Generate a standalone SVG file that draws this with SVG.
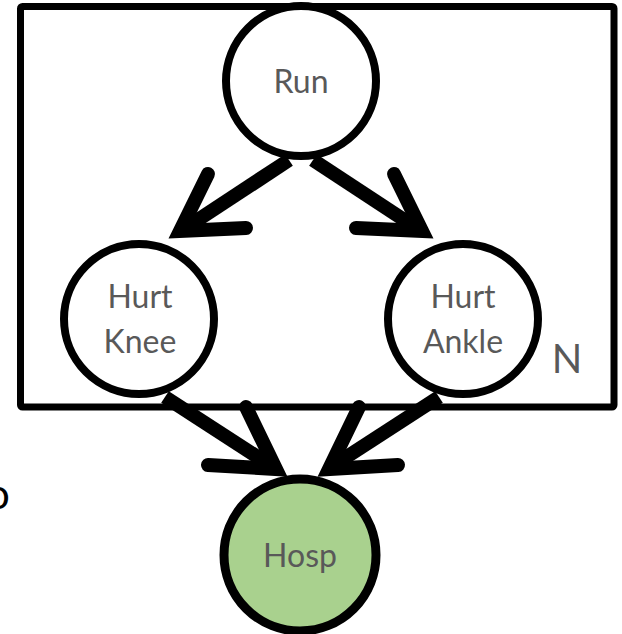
<svg xmlns="http://www.w3.org/2000/svg" width="622" height="634" viewBox="0 0 622 634">
  <style>
    .plate { fill: none; stroke: #000; stroke-width: 7; stroke-linejoin: round; }
    .node circle { fill: #fff; stroke: #000; stroke-width: 8; }
    #hosp circle { fill: #A9D18E; stroke-width: 9; }
    .label { font-family: Lato, "Open Sans", sans-serif; font-size: 32px; fill: #595959; text-anchor: middle; }
    .shaft { fill: none; stroke: #000; stroke-width: 14; stroke-linecap: butt; }
    .head { fill: none; stroke: #000; stroke-width: 14; stroke-linecap: round; stroke-linejoin: miter; stroke-miterlimit: 10; }
  </style>

  <!-- plate -->
  <rect class="plate" x="20.5" y="6.5" width="593.5" height="400.5" rx="2"/>
  <text class="label" x="567" y="373" style="font-size:40px">N</text>

  <!-- stray glyph cut off at the left edge -->
  <text x="-14" y="509" style="font-family: Lato, sans-serif; font-size: 42px; fill: #000">o</text>

  <!-- nodes -->
  <g id="run" class="node">
    <circle cx="301" cy="81" r="75"/>
    <text class="label" x="301" y="93">Run</text>
  </g>
  <g id="hurt-knee" class="node">
    <circle cx="139" cy="319" r="75"/>
    <text class="label" x="140" y="308">Hurt</text>
    <text class="label" x="140" y="353">Knee</text>
  </g>
  <g id="hurt-ankle" class="node">
    <circle cx="463" cy="319" r="75"/>
    <text class="label" x="463" y="308">Hurt</text>
    <text class="label" x="463" y="353">Ankle</text>
  </g>
  <g id="hosp" class="node">
    <circle cx="300" cy="555" r="76"/>
    <text class="label" x="300" y="567">Hosp</text>
  </g>

  <!-- connectors -->
  <g id="edges">
    <!-- Run -> Hurt Knee -->
    <line class="shaft" x1="289" y1="160" x2="184" y2="229"/>
    <path class="head" d="M208,174 L180,231 L246,228"/>
    <!-- Run -> Hurt Ankle -->
    <line class="shaft" x1="313" y1="160" x2="418" y2="229"/>
    <path class="head" d="M394,174 L422,231 L356,228"/>
    <!-- Hurt Knee -> Hosp -->
    <line class="shaft" x1="165" y1="397" x2="273" y2="467"/>
    <path class="head" d="M246,407 L276,469 L208,465"/>
    <!-- Hurt Ankle -> Hosp -->
    <line class="shaft" x1="439" y1="397" x2="331" y2="467"/>
    <path class="head" d="M359,407 L329,469 L398,465"/>
  </g>
</svg>
